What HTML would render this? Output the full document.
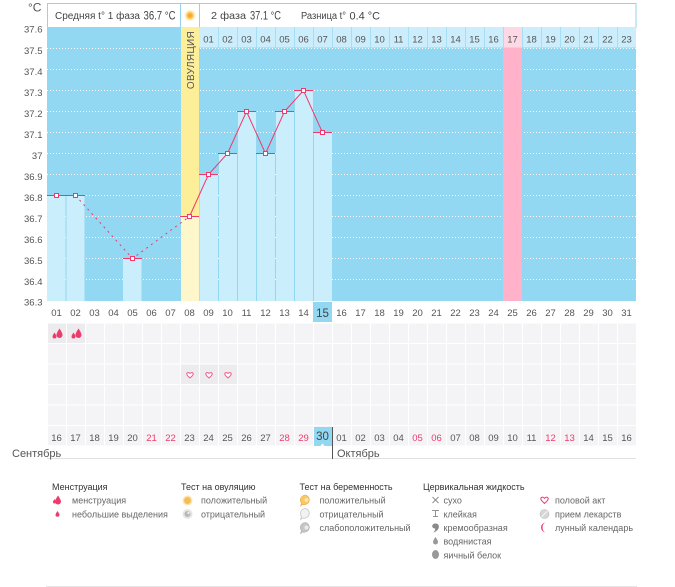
<!DOCTYPE html>
<html><head><meta charset="utf-8"><style>
html,body{margin:0;padding:0;background:#fff;}
svg{display:block;}
text{font-family:"Liberation Sans","DejaVu Sans",sans-serif;}
</style></head><body>
<svg width="675" height="587" viewBox="0 0 675 587" xmlns="http://www.w3.org/2000/svg">
<defs>
<pattern id="cells" x="48" y="323.5" width="19" height="20.5" patternUnits="userSpaceOnUse">
<rect x="0" y="0" width="18" height="19.5" fill="#f4f4f6"/>
</pattern>
<radialGradient id="sun" cx="50%" cy="50%" r="50%">
<stop offset="0" stop-color="#f59a1a"/><stop offset="0.6" stop-color="#f8bd45"/><stop offset="1" stop-color="#fde7a8"/>
</radialGradient>
</defs>
<rect width="675" height="587" fill="#fff"/>

<text x="28" y="11.5" font-size="12" fill="#555">°C</text>

<rect x="47.5" y="3.5" width="588.5" height="24" fill="#fff" stroke="#8fd5f0"/>
<line x1="180.5" y1="3.5" x2="180.5" y2="27.5" stroke="#8fd5f0"/>
<line x1="199.5" y1="3.5" x2="199.5" y2="27.5" stroke="#8fd5f0"/>
<circle cx="190" cy="15.5" r="5.5" fill="#fdf1cc"/>
<circle cx="190" cy="15.5" r="4.2" fill="url(#sun)"/>
<text x="55" y="19" font-size="10" fill="#444" textLength="85" lengthAdjust="spacingAndGlyphs">Средняя t° 1 фаза</text>
<text x="143.5" y="19.5" font-size="11.5" fill="#444" textLength="32" lengthAdjust="spacingAndGlyphs">36.7 °C</text>
<text x="211" y="19" font-size="10.5" fill="#444" textLength="35" lengthAdjust="spacingAndGlyphs">2 фаза</text>
<text x="250" y="19.5" font-size="11.5" fill="#444" textLength="31" lengthAdjust="spacingAndGlyphs">37.1 °C</text>
<text x="301" y="19" font-size="10" fill="#444" textLength="45" lengthAdjust="spacingAndGlyphs">Разница t°</text>
<text x="349.5" y="19.5" font-size="11" fill="#444" textLength="30.5" lengthAdjust="spacingAndGlyphs">0.4 °C</text>

<rect x="47" y="27" width="589" height="274" fill="#92d8f2"/>

<g stroke="#ffffff" stroke-width="1" stroke-dasharray="1,2">
<line x1="47" y1="48.5" x2="636" y2="48.5"/>
<line x1="47" y1="69.5" x2="636" y2="69.5"/>
<line x1="47" y1="90.5" x2="636" y2="90.5"/>
<line x1="47" y1="111.5" x2="636" y2="111.5"/>
<line x1="47" y1="132.5" x2="636" y2="132.5"/>
<line x1="47" y1="153.5" x2="636" y2="153.5"/>
<line x1="47" y1="174.5" x2="636" y2="174.5"/>
<line x1="47" y1="195.5" x2="636" y2="195.5"/>
<line x1="47" y1="216.5" x2="636" y2="216.5"/>
<line x1="47" y1="237.5" x2="636" y2="237.5"/>
<line x1="47" y1="258.5" x2="636" y2="258.5"/>
<line x1="47" y1="279.5" x2="636" y2="279.5"/>
</g>

<rect x="199" y="27" width="437" height="20.5" fill="#ccedfb"/>
<rect x="503" y="27" width="19" height="20.5" fill="#fdd9e6"/>
<g stroke="#a6dff5" stroke-width="1">
<line x1="218.5" y1="27" x2="218.5" y2="47.5"/><line x1="237.5" y1="27" x2="237.5" y2="47.5"/>
<line x1="256.5" y1="27" x2="256.5" y2="47.5"/><line x1="275.5" y1="27" x2="275.5" y2="47.5"/>
<line x1="294.5" y1="27" x2="294.5" y2="47.5"/><line x1="313.5" y1="27" x2="313.5" y2="47.5"/>
<line x1="332.5" y1="27" x2="332.5" y2="47.5"/><line x1="351.5" y1="27" x2="351.5" y2="47.5"/>
<line x1="370.5" y1="27" x2="370.5" y2="47.5"/><line x1="389.5" y1="27" x2="389.5" y2="47.5"/>
<line x1="408.5" y1="27" x2="408.5" y2="47.5"/><line x1="427.5" y1="27" x2="427.5" y2="47.5"/>
<line x1="446.5" y1="27" x2="446.5" y2="47.5"/><line x1="465.5" y1="27" x2="465.5" y2="47.5"/>
<line x1="484.5" y1="27" x2="484.5" y2="47.5"/><line x1="503.5" y1="27" x2="503.5" y2="47.5"/>
<line x1="522.5" y1="27" x2="522.5" y2="47.5"/><line x1="541.5" y1="27" x2="541.5" y2="47.5"/>
<line x1="560.5" y1="27" x2="560.5" y2="47.5"/><line x1="579.5" y1="27" x2="579.5" y2="47.5"/>
<line x1="598.5" y1="27" x2="598.5" y2="47.5"/><line x1="617.5" y1="27" x2="617.5" y2="47.5"/>
</g>
<g font-size="9.5" fill="#555" text-anchor="middle">
<text x="208.5" y="42.5">01</text><text x="227.5" y="42.5">02</text><text x="246.5" y="42.5">03</text>
<text x="265.5" y="42.5">04</text><text x="284.5" y="42.5">05</text><text x="303.5" y="42.5">06</text>
<text x="322.5" y="42.5">07</text><text x="341.5" y="42.5">08</text><text x="360.5" y="42.5">09</text>
<text x="379.5" y="42.5">10</text><text x="398.5" y="42.5">11</text><text x="417.5" y="42.5">12</text>
<text x="436.5" y="42.5">13</text><text x="455.5" y="42.5">14</text><text x="474.5" y="42.5">15</text>
<text x="493.5" y="42.5">16</text><text x="512.5" y="42.5">17</text><text x="531.5" y="42.5">18</text>
<text x="550.5" y="42.5">19</text><text x="569.5" y="42.5">20</text><text x="588.5" y="42.5">21</text>
<text x="607.5" y="42.5">22</text><text x="626.5" y="42.5">23</text>
</g>

<rect x="503" y="47.5" width="19" height="253.5" fill="#ffb2c9"/>
<rect x="181" y="27" width="18" height="274" fill="#fdee9a"/>
<rect x="181" y="216.5" width="18" height="84.5" fill="#fef7cc"/>
<text transform="translate(194,60) rotate(-90)" font-size="10" fill="#555" text-anchor="middle" letter-spacing="0.3">ОВУЛЯЦИЯ</text>

<g fill="#cbeefc">
<rect x="47" y="195.5" width="18.5" height="105.5"/>
<rect x="66.5" y="195.5" width="18" height="105.5"/>
<rect x="123" y="258.5" width="18.5" height="42.5"/>
<rect x="199.5" y="174.5" width="18.5" height="126.5"/>
<rect x="219" y="153.5" width="18" height="147.5"/>
<rect x="238" y="111.5" width="18" height="189.5"/>
<rect x="257" y="153.5" width="18" height="147.5"/>
<rect x="276" y="111.5" width="18" height="189.5"/>
<rect x="295" y="90.5" width="18" height="210.5"/>
<rect x="314" y="132.5" width="18" height="168.5"/>
</g>

<g stroke="#f0386c" stroke-width="1">
<line x1="47" y1="195.5" x2="66" y2="195.5"/>
<line x1="66" y1="195.5" x2="85" y2="195.5"/>
<line x1="123" y1="258.5" x2="142" y2="258.5"/>
<line x1="180" y1="216.5" x2="199" y2="216.5"/>
<line x1="199" y1="174.5" x2="218" y2="174.5"/>
<line x1="218" y1="153.5" x2="237" y2="153.5"/>
<line x1="237" y1="111.5" x2="256" y2="111.5"/>
<line x1="256" y1="153.5" x2="275" y2="153.5"/>
<line x1="275" y1="111.5" x2="294" y2="111.5"/>
<line x1="294" y1="90.5" x2="313" y2="90.5"/>
<line x1="313" y1="132.5" x2="332" y2="132.5"/>
</g>

<polyline points="189.5,216.5 208.5,174.5 227.5,153.5 246.5,111.5 265.5,153.5 284.5,111.5 303.5,90.5 322.5,132.5" fill="none" stroke="#f0386c" stroke-width="1"/>
<polyline points="75.5,195.5 132.5,258.5 189.5,216.5" fill="none" stroke="#f0386c" stroke-width="1" stroke-dasharray="2,4"/>

<g fill="#fff" stroke="#f0386c" stroke-width="1">
<rect x="54.5" y="193.5" width="4" height="4"/>
<rect x="73.5" y="193.5" width="4" height="4"/>
<rect x="130.5" y="256.5" width="4" height="4"/>
<rect x="187.5" y="214.5" width="4" height="4"/>
<rect x="206.5" y="172.5" width="4" height="4"/>
<rect x="225.5" y="151.5" width="4" height="4"/>
<rect x="244.5" y="109.5" width="4" height="4"/>
<rect x="263.5" y="151.5" width="4" height="4"/>
<rect x="282.5" y="109.5" width="4" height="4"/>
<rect x="301.5" y="88.5" width="4" height="4"/>
<rect x="320.5" y="130.5" width="4" height="4"/>
</g>

<g font-size="9.5" fill="#555" text-anchor="end">
<text x="42.5" y="32.5">37.6</text>
<text x="42.5" y="54">37.5</text>
<text x="42.5" y="75">37.4</text>
<text x="42.5" y="96">37.3</text>
<text x="42.5" y="117">37.2</text>
<text x="42.5" y="138">37.1</text>
<text x="42.5" y="159">37</text>
<text x="42.5" y="180">36.9</text>
<text x="42.5" y="201">36.8</text>
<text x="42.5" y="222">36.7</text>
<text x="42.5" y="243">36.6</text>
<text x="42.5" y="264">36.5</text>
<text x="42.5" y="285">36.4</text>
<text x="42.5" y="305.5">36.3</text>
</g>

<rect x="313" y="302" width="19" height="20" fill="#92d8f2"/>
<g font-size="9.5" fill="#555" text-anchor="middle">
<text x="56.5" y="316">01</text><text x="75.5" y="316">02</text><text x="94.5" y="316">03</text>
<text x="113.5" y="316">04</text><text x="132.5" y="316">05</text><text x="151.5" y="316">06</text>
<text x="170.5" y="316">07</text><text x="189.5" y="316">08</text><text x="208.5" y="316">09</text>
<text x="227.5" y="316">10</text><text x="246.5" y="316">11</text><text x="265.5" y="316">12</text>
<text x="284.5" y="316">13</text><text x="303.5" y="316">14</text>
<text x="341.5" y="316">16</text><text x="360.5" y="316">17</text><text x="379.5" y="316">18</text>
<text x="398.5" y="316">19</text><text x="417.5" y="316">20</text><text x="436.5" y="316">21</text>
<text x="455.5" y="316">22</text><text x="474.5" y="316">23</text><text x="493.5" y="316">24</text>
<text x="512.5" y="316">25</text><text x="531.5" y="316">26</text><text x="550.5" y="316">27</text>
<text x="569.5" y="316">28</text><text x="588.5" y="316">29</text><text x="607.5" y="316">30</text>
<text x="626.5" y="316">31</text>
</g>
<text x="322.5" y="317" font-size="11.5" fill="#444" text-anchor="middle">15</text>

<rect x="48" y="323.5" width="589" height="123" fill="url(#cells)"/>
<rect x="48" y="323.5" width="18" height="19.5" fill="#ececee"/>
<rect x="67" y="323.5" width="18" height="19.5" fill="#ececee"/>
<rect x="181" y="364.5" width="18" height="19.5" fill="#ececee"/>
<rect x="200" y="364.5" width="18" height="19.5" fill="#ececee"/>
<rect x="219" y="364.5" width="18" height="19.5" fill="#ececee"/>

<g fill="#ef3a6c">
<path d="M59.5,328.5 C61,331 62.5,333 62.5,335 A3,3 0 0 1 56.5,335 C56.5,333 58,331 59.5,328.5Z"/>
<path d="M54.5,332.5 C55.5,334 56.5,335.5 56.5,336.5 A2,2 0 0 1 52.5,336.5 C52.5,335.5 53.5,334 54.5,332.5Z"/>
<path d="M78.5,328.5 C80,331 81.5,333 81.5,335 A3,3 0 0 1 75.5,335 C75.5,333 77,331 78.5,328.5Z"/>
<path d="M73.5,332.5 C74.5,334 75.5,335.5 75.5,336.5 A2,2 0 0 1 71.5,336.5 C71.5,335.5 72.5,334 73.5,332.5Z"/>
</g>
<g fill="#fff" stroke="#ef5a85" stroke-width="1">
<path d="M190,378 C189,377 186.8,375.5 186.8,374 C186.8,372.5 188.8,372 190,373.5 C191.2,372 193.2,372.5 193.2,374 C193.2,375.5 191,377 190,378Z"/>
<path d="M209,378 C208,377 205.8,375.5 205.8,374 C205.8,372.5 207.8,372 209,373.5 C210.2,372 212.2,372.5 212.2,374 C212.2,375.5 210,377 209,378Z"/>
<path d="M228,378 C227,377 224.8,375.5 224.8,374 C224.8,372.5 226.8,372 228,373.5 C229.2,372 231.2,372.5 231.2,374 C231.2,375.5 229,377 228,378Z"/>
</g>

<rect x="314" y="427" width="18" height="19" fill="#92d8f2"/>
<path d="M320.5,446 L322.5,443.5 L324.5,446Z" fill="#fff"/>
<g font-size="9.5" fill="#555" text-anchor="middle">
<text x="56.5" y="441">16</text><text x="75.5" y="441">17</text><text x="94.5" y="441">18</text>
<text x="113.5" y="441">19</text><text x="132.5" y="441">20</text>
<text x="151.5" y="441" fill="#ef3a6c">21</text><text x="170.5" y="441" fill="#ef3a6c">22</text>
<text x="189.5" y="441">23</text><text x="208.5" y="441">24</text><text x="227.5" y="441">25</text>
<text x="246.5" y="441">26</text><text x="265.5" y="441">27</text>
<text x="284.5" y="441" fill="#ef3a6c">28</text><text x="303.5" y="441" fill="#ef3a6c">29</text>
<text x="341.5" y="441">01</text><text x="360.5" y="441">02</text><text x="379.5" y="441">03</text>
<text x="398.5" y="441">04</text>
<text x="417.5" y="441" fill="#ef3a6c">05</text><text x="436.5" y="441" fill="#ef3a6c">06</text>
<text x="455.5" y="441">07</text><text x="474.5" y="441">08</text><text x="493.5" y="441">09</text>
<text x="512.5" y="441">10</text><text x="531.5" y="441">11</text>
<text x="550.5" y="441" fill="#ef3a6c">12</text><text x="569.5" y="441" fill="#ef3a6c">13</text>
<text x="588.5" y="441">14</text><text x="607.5" y="441">15</text><text x="626.5" y="441">16</text>
</g>
<text x="322.5" y="440" font-size="11.5" fill="#444" text-anchor="middle">30</text>

<line x1="47" y1="458.5" x2="636" y2="458.5" stroke="#e2e2e2"/>
<line x1="332.5" y1="427" x2="332.5" y2="459" stroke="#555"/>
<text x="12" y="457" font-size="11" fill="#555">Сентябрь</text>
<text x="337" y="457" font-size="11" fill="#555">Октябрь</text>

<g font-size="9" fill="#333">
<text x="52" y="490">Менструация</text>
<text x="181" y="490">Тест на овуляцию</text>
<text x="299.5" y="490">Тест на беременность</text>
<text x="423" y="490">Цервикальная жидкость</text>
</g>
<g font-size="9" fill="#666">
<text x="72" y="503.7">менструация</text>
<text x="72" y="517.3">небольшие выделения</text>
<text x="201" y="503.7">положительный</text>
<text x="201" y="517.3">отрицательный</text>
<text x="319.5" y="503.7">положительный</text>
<text x="319.5" y="517.3">отрицательный</text>
<text x="319.5" y="531">слабоположительный</text>
<text x="443.5" y="503.7">сухо</text>
<text x="443.5" y="517.3">клейкая</text>
<text x="443.5" y="531">кремообразная</text>
<text x="443.5" y="544.7">водянистая</text>
<text x="443.5" y="558.4">яичный белок</text>
<text x="555" y="503.7">половой акт</text>
<text x="555" y="517.3">прием лекарств</text>
<text x="555" y="531">лунный календарь</text>
</g>
<g fill="#ef3a6c">
<path d="M58,495.5 C59.5,498 61,500 61,501.5 A3,3 0 0 1 55,501.5 C55,500 56.5,498 58,495.5Z"/>
<path d="M54.5,499 C55.3,500.3 56,501.3 56,502 A1.5,1.5 0 0 1 53,502 C53,501.3 53.7,500.3 54.5,499Z"/>
<path d="M57.5,511 C58.4,512.5 59.5,513.8 59.5,514.8 A2,2 0 0 1 55.5,514.8 C55.5,513.8 56.6,512.5 57.5,511Z"/>
</g>
<circle cx="187.5" cy="500.5" r="5" fill="#fde6ad"/>
<circle cx="187.5" cy="500.5" r="3.5" fill="#f7bd55"/>
<circle cx="187.5" cy="514" r="5" fill="#e6e6e6"/>
<circle cx="187.5" cy="514" r="3" fill="#b8b8b8"/>
<circle cx="188.5" cy="513" r="1.2" fill="#eee"/>
<path d="M305.5,495 A5.5,5 0 1 1 302,504.5 L300.5,506.5 L301.5,503 A5.5,5 0 0 1 305.5,495Z" fill="#f8c868" stroke="#eaa93a" stroke-width="0.6"/>
<circle cx="306.5" cy="500" r="2" fill="#fde7b5"/>
<path d="M305.5,508.5 A5.5,5 0 1 1 302,518 L300.5,520 L301.5,516.5 A5.5,5 0 0 1 305.5,508.5Z" fill="#f2f2f2" stroke="#c8c8c8" stroke-width="0.8"/>
<path d="M305.5,522.5 A5.5,5 0 1 1 302,532 L300.5,534 L301.5,530.5 A5.5,5 0 0 1 305.5,522.5Z" fill="#c6c6c6" stroke="#aaa" stroke-width="0.6"/>
<circle cx="306.5" cy="527.5" r="2" fill="#ececec"/>
<g stroke="#888" stroke-width="0.9" fill="none">
<line x1="432.5" y1="497" x2="438.5" y2="503"/><line x1="438.5" y1="497" x2="432.5" y2="503"/>
<line x1="432" y1="510.5" x2="439" y2="510.5"/><line x1="435.5" y1="510.5" x2="435.5" y2="516.5"/><line x1="433" y1="516.5" x2="438" y2="516.5"/>
</g>
<path d="M435.5,523.5 C438.5,523.5 439.5,526 438.5,528.5 C437.5,530.5 435.5,532 433,532.5 C435,531 435.5,529.5 435,528.5 C433,528.5 432,527 432.3,525.5 C432.7,524.2 434,523.5 435.5,523.5Z" fill="#8a8a8a"/>
<path d="M435.5,537 C436.8,539 438,540.5 438,542 A2.5,2.5 0 0 1 433,542 C433,540.5 434.2,539 435.5,537Z" fill="#999"/>
<ellipse cx="435.5" cy="554.5" rx="3.5" ry="4.5" fill="#999"/>
<path d="M544.5,503.5 C543.3,502.3 540.8,500.5 540.8,498.8 C540.8,497 543,496.5 544.5,498.3 C546,496.5 548.2,497 548.2,498.8 C548.2,500.5 545.7,502.3 544.5,503.5Z" fill="#fff" stroke="#ef3a6c" stroke-width="1"/>
<circle cx="544.5" cy="514" r="4.5" fill="#d6d6d6" stroke="#bdbdbd" stroke-width="0.6"/>
<line x1="541.5" y1="517" x2="547.5" y2="511" stroke="#f4f4f4" stroke-width="1.2"/>
<path d="M546,522.5 A5,5 0 1 0 546,532.5 A3.5,5 0 1 1 546,522.5Z" fill="#ef3a6c"/>

<line x1="46" y1="586.5" x2="637" y2="586.5" stroke="#e6e6e6"/>
</svg>
</body></html>
